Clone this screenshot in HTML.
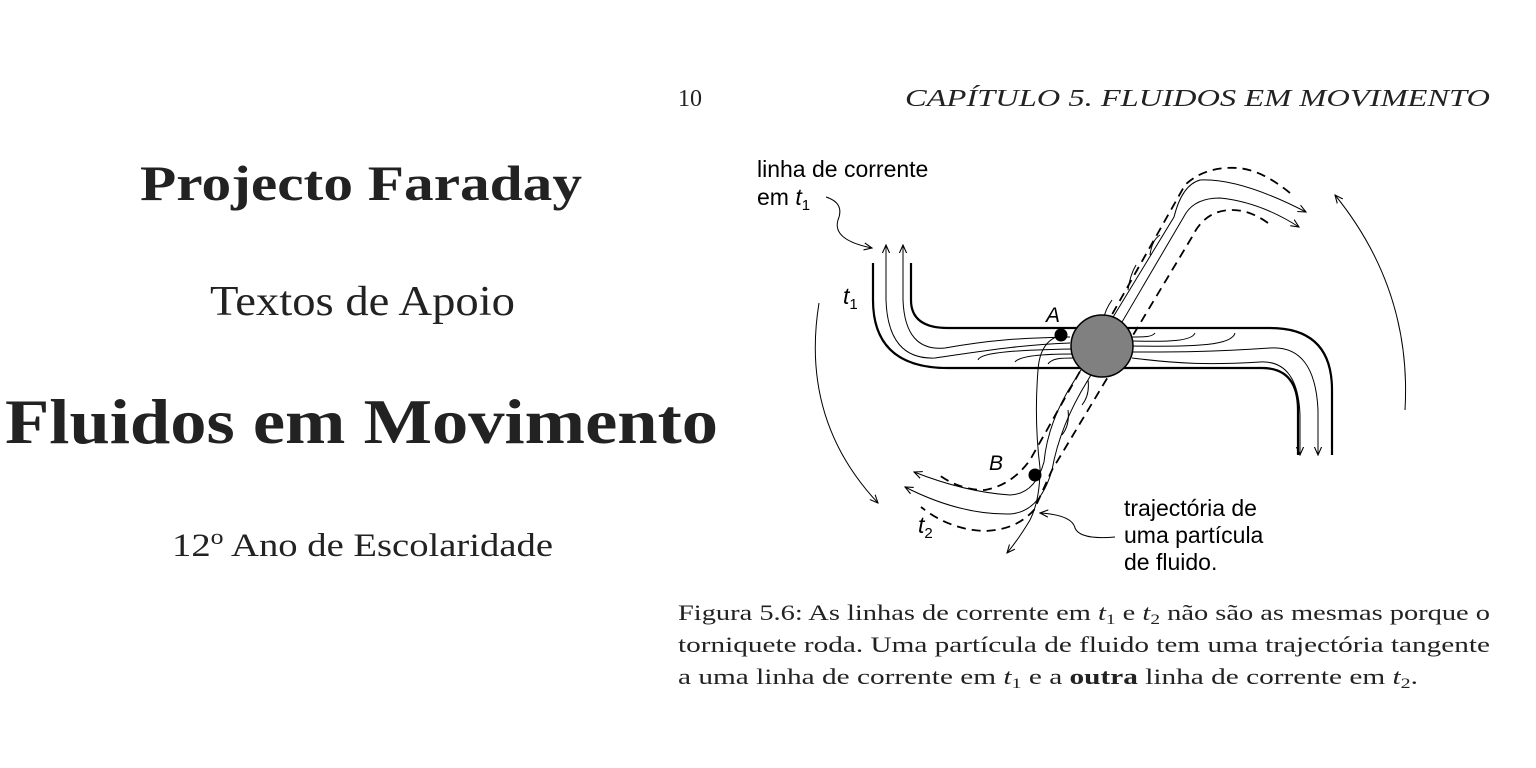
<!DOCTYPE html>
<html><head><meta charset="utf-8"><style>
html,body{margin:0;padding:0;background:#fff;}
svg{display:block}
.s{font-family:"Liberation Serif",serif;fill:#222}
.a{font-family:"Liberation Sans",sans-serif;fill:#000}
</style></head><body>
<svg width="1536" height="768" viewBox="0 0 1536 768" xmlns="http://www.w3.org/2000/svg">
<defs>
<marker id="ar" viewBox="0 0 10 10" refX="9" refY="5" markerWidth="9" markerHeight="9" orient="auto-start-reverse" markerUnits="userSpaceOnUse"><path d="M0,1 L9,5 L0,9" fill="none" stroke="#000" stroke-width="1.2"/></marker>
</defs>
<!-- left column -->
<text class="s" x="140" y="200" font-size="50" font-weight="bold" textLength="442" lengthAdjust="spacingAndGlyphs">Projecto Faraday</text>
<text class="s" x="210" y="315" font-size="42" textLength="305" lengthAdjust="spacingAndGlyphs">Textos de Apoio</text>
<text class="s" x="5" y="443" font-size="64" font-weight="bold" textLength="713" lengthAdjust="spacingAndGlyphs">Fluidos em Movimento</text>
<text class="s" x="172" y="556" font-size="33" textLength="381" lengthAdjust="spacingAndGlyphs">12<tspan dy="-12" font-size="22">o</tspan><tspan dy="12"> Ano de Escolaridade</tspan></text>
<!-- header -->
<text class="s" x="678" y="106" font-size="24">10</text>
<text class="s" x="905" y="106" font-size="24" font-style="italic" textLength="585" lengthAdjust="spacingAndGlyphs">CAPÍTULO 5.  FLUIDOS EM MOVIMENTO</text>
<!-- caption -->
<text class="s" x="678" y="620" font-size="22" textLength="812" lengthAdjust="spacingAndGlyphs">Figura 5.6: As linhas de corrente em <tspan font-style="italic">t</tspan><tspan font-size="15" dy="4">1</tspan><tspan dy="-4"> e </tspan><tspan font-style="italic">t</tspan><tspan font-size="15" dy="4">2</tspan><tspan dy="-4"> não são as mesmas porque o</tspan></text>
<text class="s" x="678" y="652" font-size="22" textLength="812" lengthAdjust="spacingAndGlyphs">torniquete roda. Uma partícula de fluido tem uma trajectória tangente</text>
<text class="s" x="678" y="684" font-size="22" textLength="740" lengthAdjust="spacingAndGlyphs">a uma linha de corrente em <tspan font-style="italic">t</tspan><tspan font-size="15" dy="4">1</tspan><tspan dy="-4"> e a </tspan><tspan font-weight="bold">outra</tspan> linha de corrente em <tspan font-style="italic">t</tspan><tspan font-size="15" dy="4">2</tspan><tspan dy="-4">.</tspan></text>

<!-- diagram -->
<g fill="none" stroke="#000">
<path d="M873,263 L873,300 Q873,368 948,368 L1262,368 Q1298,368 1298,410 L1298,455" stroke-width="2.2"/>
<path d="M911,263 L911,300 Q911,328 948,328 L1270,328 Q1332,328 1332,390 L1332,455" stroke-width="2.2"/>
<path d="M886,245 L886,300 Q888,360 935,358 C990,350 1020,345 1070,343" stroke-width="1" marker-start="url(#ar)"/>
<path d="M903,245 L903,300 Q905,352 945,348 C990,340 1020,338 1070,337" stroke-width="1" marker-start="url(#ar)"/>
<path d="M978,360 C980,352 1020,350 1072,349" stroke-width="1"/>
<path d="M1015,362 C1020,355 1050,354 1072,354" stroke-width="1"/>
<path d="M1048,364 C1052,358 1062,358 1074,358" stroke-width="1"/>
<path d="M1300,455 L1300,415 Q1298,360 1260,362 C1210,365 1180,364 1132,358" stroke-width="1" marker-start="url(#ar)"/>
<path d="M1318,455 L1318,410 Q1315,345 1270,348 C1210,352 1180,352 1132,352" stroke-width="1" marker-start="url(#ar)"/>
<path d="M1235,333 C1232,345 1200,347 1132,346" stroke-width="1"/>
<path d="M1195,333 C1192,341 1170,342 1132,341" stroke-width="1"/>
<path d="M1155,333 C1152,337 1145,337 1132,337" stroke-width="1"/>
<path d="M1290,193 Q1262,170 1238,168 Q1205,166 1185,185 L1030,460 Q1012,485 985,490 Q960,490 939,475" stroke-width="1.8" stroke-dasharray="9,6"/>
<path d="M1268,223 Q1250,210 1232,210 Q1205,210 1192,237 L1052,470 L1034,510 Q1016,530 985,531 Q950,530 921,507" stroke-width="1.8" stroke-dasharray="9,6"/>
<path d="M1306,212 Q1240,178 1200,180 Q1182,185 1174,217 L1076,378 Q1048,420 1044,462 Q1035,494 1010,495 Q965,492 914,472" stroke-width="1" marker-start="url(#ar)" marker-end="url(#ar)"/>
<path d="M1299,227 Q1260,202 1220,198 Q1196,198 1186,213 L1088,380 Q1060,425 1052,470 Q1040,512 1010,514 Q960,515 905,487" stroke-width="1" marker-start="url(#ar)" marker-end="url(#ar)"/>
<path d="M1160,235 Q1152,240 1150,255 M1136,265 Q1130,275 1128,290 M1112,300 Q1105,310 1104,318" stroke-width="1"/>
<path d="M1088,380 Q1090,395 1082,405 M1068,410 Q1070,425 1062,435" stroke-width="1"/>
<path d="M1062,335 Q1040,340 1038,370 Q1034,420 1040,468 Q1040,500 1030,520 Q1018,540 1007,553" stroke-width="1" marker-end="url(#ar)"/>
<path d="M819,303 Q800,420 878,503" stroke-width="1" marker-end="url(#ar)"/>
<path d="M1405,410 Q1412,290 1335,195" stroke-width="1" marker-end="url(#ar)"/>
<path d="M826,197 Q845,203 838,220 Q832,240 872,248" stroke-width="1" marker-end="url(#ar)"/>
<path d="M1115,537 Q1080,540 1075,528 Q1072,515 1040,513" stroke-width="1" marker-end="url(#ar)"/>
</g>
<circle cx="1102" cy="346" r="31" fill="#808080" stroke="#000" stroke-width="1.5"/>
<circle cx="1061" cy="335" r="6.5" fill="#000"/>
<circle cx="1035" cy="475" r="6.5" fill="#000"/>
<g class="a" font-size="23">
<text x="757" y="177">linha de corrente</text>
<text x="757" y="205">em <tspan font-style="italic">t</tspan><tspan font-size="15" dy="5">1</tspan></text>
<text x="843" y="304" font-style="italic">t<tspan font-size="15" dy="5" font-style="normal">1</tspan></text>
<text x="918" y="533" font-style="italic">t<tspan font-size="15" dy="5" font-style="normal">2</tspan></text>
<text x="1046" y="322" font-style="italic" font-size="21">A</text>
<text x="989" y="470" font-style="italic" font-size="21">B</text>
<text x="1124" y="516">trajectória de</text>
<text x="1124" y="543">uma partícula</text>
<text x="1124" y="570">de fluido.</text>
</g>
</svg>
</body></html>
